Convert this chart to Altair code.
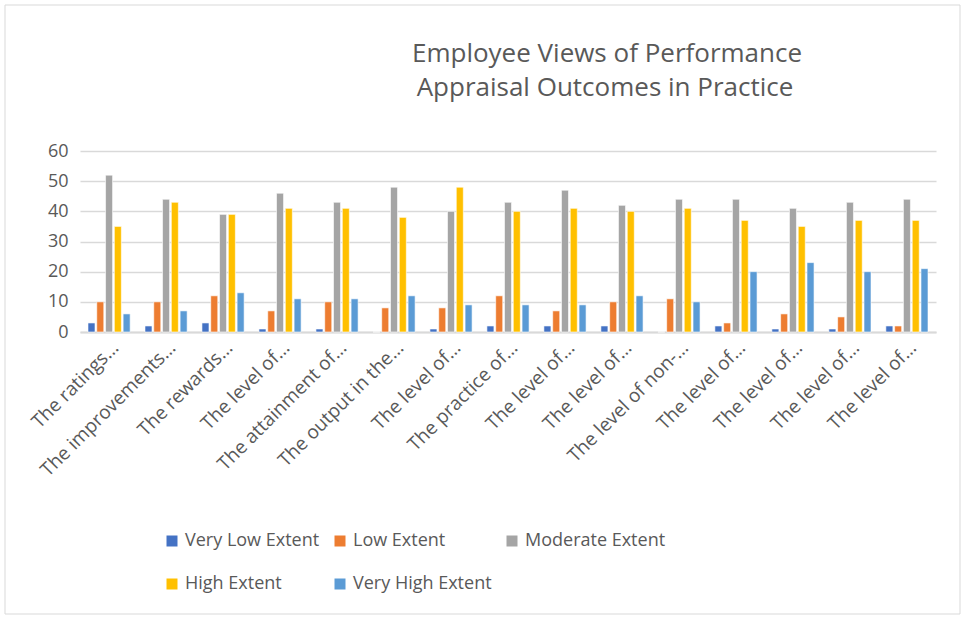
import altair as alt
import pandas as pd

categories = [
    "The ratings…", "The improvements…", "The rewards…", "The level of… ",
    "The attainment of…", "The output in the…", "The level of…  ",
    "The practice of…", "The level of…   ", "The level of…    ",
    "The level of non-…", "The level of…     ", "The level of…      ",
    "The level of…       ", "The level of…        ",
]
series = ["Very Low Extent", "Low Extent", "Moderate Extent", "High Extent", "Very High Extent"]
colors = ["#4472C4", "#ED7D31", "#A5A5A5", "#FFC000", "#5B9BD5"]

very_low = [3, 2, 3, 1, 1, 0, 1, 2, 2, 2, 0, 2, 1, 1, 2]
low = [10, 10, 12, 7, 10, 8, 8, 12, 7, 10, 11, 3, 6, 5, 2]
moderate = [52, 44, 39, 46, 43, 48, 40, 43, 47, 42, 44, 44, 41, 43, 44]
high = [35, 43, 39, 41, 41, 38, 48, 40, 41, 40, 41, 37, 35, 37, 37]
very_high = [6, 7, 13, 11, 11, 12, 9, 9, 9, 12, 10, 20, 23, 20, 21]

title_lines = ["Employee Views of Performance", "Appraisal Outcomes in Practice"]

rows = []
for s, vals in zip(series, [very_low, low, moderate, high, very_high]):
    for c, v in zip(categories, vals):
        rows.append({"cat": c, "series": s, "value": v})
df = pd.DataFrame(rows)

TXT = "#595959"
GRID = "#d9d9d9"
FONT = "Open Sans"

bars = alt.Chart(df).mark_bar(stroke="white", strokeWidth=0.6).encode(
    x=alt.X("cat:N", sort=categories,
            scale=alt.Scale(paddingInner=0.26, paddingOuter=0.14),
            axis=alt.Axis(title=None, labelAngle=-45, labelFontSize=19, labelColor=TXT,
                          labelFont=FONT, ticks=False, domainColor=GRID, domainWidth=2,
                          labelLimit=400, labelPadding=6, grid=False)),
    xOffset=alt.XOffset("series:N", sort=series, scale=alt.Scale(paddingInner=0.2)),
    y=alt.Y("value:Q", scale=alt.Scale(domain=[0, 60]),
            axis=alt.Axis(title=None, values=[0, 10, 20, 30, 40, 50, 60], labelFontSize=18,
                          labelColor=TXT, labelFont=FONT, ticks=False, domain=False,
                          gridColor=GRID, gridWidth=1.5, labelPadding=12)),
    color=alt.Color("series:N", sort=series,
                    scale=alt.Scale(domain=series, range=colors),
                    legend=alt.Legend(title=None, orient="none", legendX=83, legendY=381,
                                      direction="horizontal", columns=3,
                                      symbolType="square", symbolSize=121,
                                      symbolStrokeWidth=0,
                                      labelFontSize=18, labelColor=TXT, labelFont=FONT,
                                      columnPadding=11, rowPadding=25, labelLimit=400)),
)

one = pd.DataFrame({"a": [0]})
rkw = dict(color=GRID, strokeWidth=1)
b_top = alt.Chart(one).mark_rule(**rkw).encode(
    x=alt.value(-75), x2=alt.value(880), y=alt.value(-146))
b_bot = alt.Chart(one).mark_rule(**rkw).encode(
    x=alt.value(-75), x2=alt.value(880), y=alt.value(463))
b_left = alt.Chart(one).mark_rule(**rkw).encode(
    x=alt.value(-75), y=alt.value(-146), y2=alt.value(463))
b_right = alt.Chart(one).mark_rule(**rkw).encode(
    x=alt.value(880), y=alt.value(-146), y2=alt.value(463))

tdf1 = pd.DataFrame({"t": [title_lines[0]]})
tdf2 = pd.DataFrame({"t": [title_lines[1]]})
tkw = dict(fontSize=26, color=TXT, font=FONT, align="center", baseline="alphabetic")
title1 = alt.Chart(tdf1).mark_text(**tkw).encode(
    text="t:N", x=alt.value(527), y=alt.value(-89))
title2 = alt.Chart(tdf2).mark_text(**tkw).encode(
    text="t:N", x=alt.value(525), y=alt.value(-55))

chart = alt.layer(b_top, b_bot, b_left, b_right, bars, title1, title2).properties(
    width=856, height=181,
    background="white",
    autosize=alt.AutoSizeParams(type="none"),
    padding={"left": 80, "top": 151, "right": 30, "bottom": 287},
).configure_view(strokeWidth=0, stroke="transparent")

chart.save("out.html", embed_options={"renderer": "svg", "actions": False})
